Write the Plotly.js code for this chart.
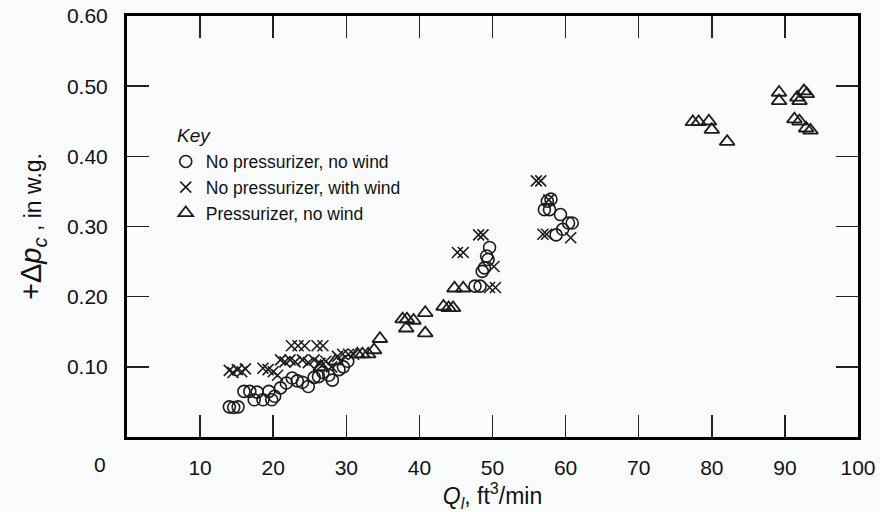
<!DOCTYPE html>
<html>
<head>
<meta charset="utf-8">
<script src="https://cdn.plot.ly/plotly-3.0.1.min.js"></script>
<style>
  html, body { margin: 0; padding: 0; background: #fafbfc; }
  #chart { width: 880px; height: 512px; }
</style>
</head>
<body>
<div id="chart"></div>
<script>
// Leakage flow Q_l (ft3/min) against pressure difference (in w.g.)
const noPressNoWindQ = [14.0, 14.6, 15.2, 16.0, 16.8, 17.4, 17.8, 18.6, 19.4, 19.8, 20.2, 21.0, 21.8, 22.6, 23.3, 24.0, 24.8, 25.6, 26.2, 26.8, 27.6, 28.1, 29.0, 29.6, 30.2,
  47.6, 48.3, 48.6, 48.9, 49.4, 49.2, 49.6,
  57.1, 57.8, 57.5, 58.0, 58.7, 59.3, 59.6, 60.4, 60.9];
const noPressNoWindDp = [0.043, 0.042, 0.043, 0.065, 0.065, 0.053, 0.064, 0.053, 0.065, 0.053, 0.058, 0.070, 0.077, 0.084, 0.080, 0.078, 0.072, 0.085, 0.086, 0.092, 0.088, 0.081, 0.096, 0.100, 0.108,
  0.215, 0.215, 0.236, 0.241, 0.253, 0.258, 0.270,
  0.324, 0.324, 0.336, 0.339, 0.288, 0.317, 0.296, 0.305, 0.305];

const noPressWindQ = [14.0, 14.5, 15.1, 15.7, 16.2, 18.6, 19.3, 20.0, 20.6, 21.0, 21.6, 22.3, 23.0, 22.5, 23.4, 24.3, 26.0, 26.8, 24.0, 24.8, 25.6, 26.4, 27.2, 28.0, 28.8, 29.5, 30.3, 31.0,
  45.2, 46.0, 48.1, 48.7, 50.2, 49.6, 50.4,
  56.0, 56.6, 57.7, 56.9, 57.4, 60.7];
const noPressWindDp = [0.095, 0.092, 0.096, 0.093, 0.097, 0.098, 0.096, 0.093, 0.088, 0.110, 0.107, 0.110, 0.107, 0.130, 0.130, 0.130, 0.130, 0.130, 0.110, 0.106, 0.110, 0.105, 0.108, 0.100, 0.115, 0.118, 0.118, 0.118,
  0.263, 0.263, 0.288, 0.288, 0.243, 0.213, 0.213,
  0.365, 0.365, 0.338, 0.289, 0.289, 0.284];

const pressNoWindQ = [26.5, 28.5, 31.5, 32.2, 33.0, 33.8, 34.6, 37.7, 38.3, 39.2, 38.2, 40.8, 40.8, 43.3, 44.0, 44.6, 44.8, 46.0,
  77.4, 78.2, 79.6, 80.0, 82.1,
  89.2, 89.2, 91.7, 92.0, 92.6, 93.0, 91.3, 92.0, 92.9, 93.5];
const pressNoWindDp = [0.100, 0.108, 0.118, 0.118, 0.118, 0.124, 0.140, 0.168, 0.168, 0.166, 0.155, 0.177, 0.148, 0.186, 0.184, 0.184, 0.212, 0.212,
  0.449, 0.449, 0.450, 0.438, 0.421,
  0.491, 0.479, 0.484, 0.479, 0.493, 0.489, 0.453, 0.450, 0.440, 0.437];

const seriesNames = ['No pressurizer, no wind', 'No pressurizer, with wind', 'Pressurizer, no wind'];
const xTickVals = [0, 10, 20, 30, 40, 50, 60, 70, 80, 90, 100];
const xTickText = ['', '10', '20', '30', '40', '50', '60', '70', '80', '90', '100'];
const yTickVals = [0, 0.1, 0.2, 0.3, 0.4, 0.5, 0.6];
const yTickText = ['', '0.10', '0.20', '0.30', '0.40', '0.50', '0.60'];

const ink = '#1c1c1c';
const font = 'Liberation Sans, Arial, sans-serif';

const traces = [
  { x: noPressNoWindQ, y: noPressNoWindDp, name: seriesNames[0],
    marker: { symbol: 'circle-open', size: 12, color: ink, line: { width: 1.6, color: ink } } },
  { x: noPressWindQ, y: noPressWindDp, name: seriesNames[1],
    marker: { symbol: 'x-thin-open', size: 11, color: ink, line: { width: 1.6, color: ink } } },
  { x: pressNoWindQ, y: pressNoWindDp, name: seriesNames[2],
    marker: { symbol: 'triangle-up-open', size: 13, color: ink, line: { width: 1.8, color: ink } } }
].map(t => Object.assign({ type: 'scatter', mode: 'markers', cliponaxis: false }, t));

const axisCommon = {
  showline: true, linewidth: 3, linecolor: '#000', mirror: 'ticks',
  ticks: 'inside', ticklen: 22, tickwidth: 1.5, tickcolor: '#222',
  showgrid: false, zeroline: false, fixedrange: true,
  tickfont: { family: font, size: 21, color: '#111' }
};

const layout = {
  width: 880, height: 512,
  margin: { l: 127, r: 22, t: 16, b: 75 },
  paper_bgcolor: '#fafbfc', plot_bgcolor: '#fafbfc',
  showlegend: true,
  legend: {
    x: 0.053, y: 0.697, xanchor: 'left', yanchor: 'top',
    bgcolor: 'rgba(0,0,0,0)', borderwidth: 0,
    traceorder: 'normal',
    font: { family: font, size: 17.5, color: '#111' }
  },
  xaxis: Object.assign({}, axisCommon, {
    range: [0, 100], tickvals: xTickVals, ticktext: xTickText, ticklabelstandoff: 10,
    title: { text: '<i>Q<sub>l</sub></i>, ft<sup>3</sup>/min', font: { family: font, size: 23, color: '#111' }, standoff: 2 }
  }),
  yaxis: Object.assign({}, axisCommon, {
    range: [0, 0.6], tickvals: yTickVals, ticktext: yTickText, ticklabelstandoff: 12,
    title: { text: '<span style="font-size:29px">+Δ<i>p<sub>c</sub></i></span> , in w.g.', font: { family: font, size: 23, color: '#111' }, standoff: 19 }
  }),
  annotations: [
    { text: '0', xref: 'paper', yref: 'paper', x: -0.037, y: -0.066, showarrow: false,
      xanchor: 'center', yanchor: 'middle', font: { family: font, size: 21, color: '#111' } },
    { text: '<i>Key</i>', xref: 'paper', yref: 'paper', x: 0.066, y: 0.717, showarrow: false,
      xanchor: 'left', yanchor: 'middle', font: { family: font, size: 19, color: '#111' } }
  ]
};

Plotly.newPlot('chart', traces, layout, { displayModeBar: false, staticPlot: true });
</script>
</body>
</html>
